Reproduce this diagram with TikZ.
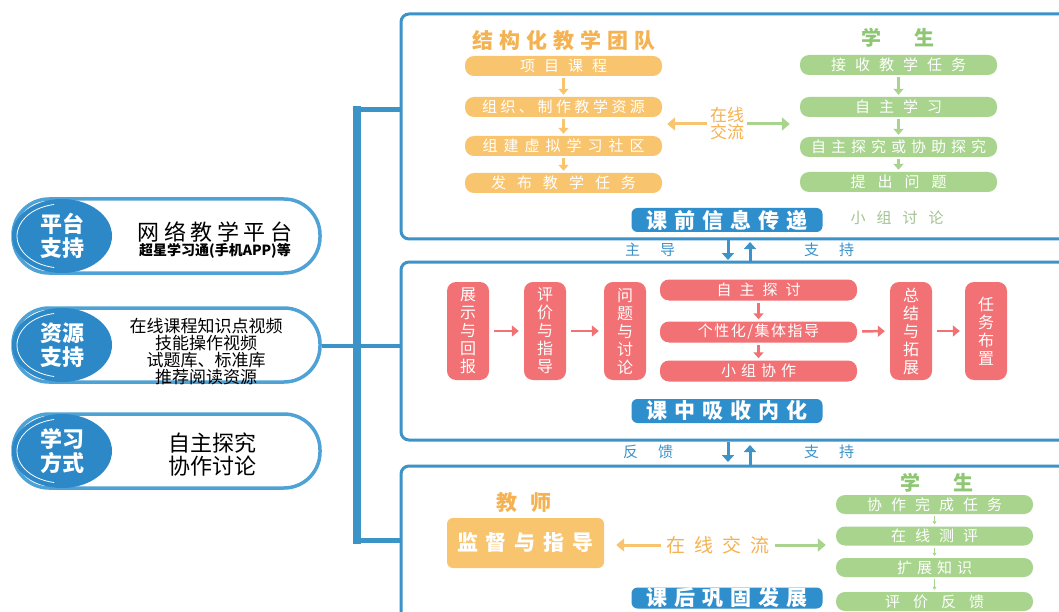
\documentclass[tikz,border=0pt]{standalone}
\usepackage{fontspec}
\setmainfont{Noto Sans CJK SC}
\usetikzlibrary{arrows.meta,shapes.geometric,positioning}

\definecolor{lineblue}{HTML}{3C93C8}
\definecolor{badgeblue}{HTML}{2F8ECC}
\definecolor{pillblue}{HTML}{2C88C6}
\definecolor{pillrim}{HTML}{4FA2D6}
\definecolor{teachorange}{HTML}{F9C46E}
\definecolor{orangetext}{HTML}{F5B252}
\definecolor{stugreen}{HTML}{A8D48E}
\definecolor{greentext}{HTML}{8FC673}
\definecolor{notegreen}{HTML}{A3C290}
\definecolor{midpink}{HTML}{F27174}

\newcommand\fs[2]{\fontsize{#1}{#2}\selectfont}
\newcommand\spaced[2]{\def\spacedgap{#1}\spacednext#2\relax}
\def\spacednext#1#2{#1\ifx\relax#2\else\hspace{\spacedgap}\expandafter\spacednext\expandafter#2\fi}

\tikzset{
  panel/.style={draw=lineblue, line width=3pt, rounded corners=8pt},
  bracket/.style={draw=lineblue, line width=5pt},
  pill/.style={draw=pillrim, line width=3.5pt, fill=white, rounded corners=36pt,
    minimum width=307pt, minimum height=74pt, inner sep=0pt},
  pillcap/.style={ellipse, fill=pillblue, minimum width=100pt, minimum height=74pt,
    inner sep=0pt, text=white, align=center, font=\fs{22}{24}\bfseries},
  capline/.style={draw=white, line width=0.8pt},
  pilltext/.style={align=center, inner sep=0pt},
  obox/.style={fill=teachorange, rounded corners=9pt, minimum width=197pt,
    minimum height=20pt, inner sep=0pt, text=white, font=\fs{15}{15}},
  gbox/.style={obox, fill=stugreen},
  pbar/.style={obox, fill=midpink, minimum height=21pt},
  pcol/.style={fill=midpink, rounded corners=9pt, minimum width=42pt,
    minimum height=98pt, inner sep=0pt, text=white, align=center, font=\fs{16}{18}},
  obig/.style={fill=teachorange, rounded corners=6pt, minimum width=157pt,
    minimum height=50pt, inner sep=0pt, text=white, font=\fs{21}{21}\bfseries},
  otitle/.style={text=orangetext, font=\fs{21}{21}\bfseries, inner sep=0pt},
  gtitle/.style={text=greentext, font=\fs{20}{20}\bfseries, inner sep=0pt},
  online/.style={text=orangetext, align=center, inner sep=0pt},
  note/.style={text=notegreen, font=\fs{15}{15}, inner sep=0pt},
  bluelabel/.style={text=lineblue, font=\fs{15}{15}, inner sep=0pt},
  badge/.style={fill=badgeblue, rounded corners=6pt, minimum width=191pt,
    minimum height=24pt, inner sep=0pt, text=white, font=\fs{21}{21}\bfseries},
  odown/.style={draw=teachorange, line width=2.5pt, -{Triangle[length=6pt,width=10pt]},
    shorten <=2pt, shorten >=2pt},
  gdown/.style={odown, draw=stugreen},
  pdown/.style={odown, draw=midpink},
  oarr/.style={draw=teachorange, line width=3pt, -{Triangle[length=8pt,width=13pt]}},
  garr/.style={oarr, draw=stugreen},
  parr/.style={draw=midpink, line width=2.5pt, -{Triangle[length=7pt,width=11pt]},
    shorten <=5pt, shorten >=5pt},
  barr/.style={draw=lineblue, line width=3pt, -{Triangle[length=7pt,width=12pt]}},
  tiny/.style={draw=stugreen, line width=1pt, -{Triangle[length=3pt,width=4pt]},
    shorten <=2pt, shorten >=2pt}
}

\begin{document}
\begin{tikzpicture}[x=1pt,y=-1pt]
\useasboundingbox (0,0) rectangle (1059,612);
\fill[white] (0,0) rectangle (1059,612);

% panels
\draw[panel] (1066,14) -- (401,14) -- (401,239) -- (1066,239);
\draw[panel] (1066,262) -- (401,262) -- (401,440) -- (1066,440);
\draw[panel] (1066,466) -- (401,466) -- (401,620);

% left side
\node[pill] (pill1) at (166.5,236) {};
\node[pillcap] (cap1) at (62,236) {平台\\支持};
\draw[capline] (cap1.center) ++(100:45 and 32) arc[start angle=100, end angle=260, x radius=45, y radius=32];
\node[pilltext] (plat) at (215,240) {{\fs{22}{28}\spaced{4.5pt}{网络教学平台}}\\{\fs{14}{16}\bfseries 超星学习通(手机APP)等}};

\node[pill] (pill2) at (166.5,345) {};
\node[pillcap] (cap2) at (62,345) {资源\\支持};
\draw[capline] (cap2.center) ++(100:45 and 32) arc[start angle=100, end angle=260, x radius=45, y radius=32];
\node[pilltext, font=\fs{17}{17}] (res) at (206,352) {在线课程知识点视频\\技能操作视频\\试题库、标准库\\推荐阅读资源};

\node[pill] (pill3) at (166.5,451) {};
\node[pillcap] (cap3) at (62,451) {学习\\方式};
\draw[capline] (cap3.center) ++(100:45 and 32) arc[start angle=100, end angle=260, x radius=45, y radius=32];
\node[pilltext, font=\fs{22}{23}] (way) at (212,455) {自主探究\\协作讨论};

% bracket
\coordinate (top) at (401,110);
\coordinate (mid) at (401,346);
\coordinate (bot) at (401,540);
\draw[bracket] (top) -- (357,110);
\draw[bracket] (bot) -- (357,540);
\draw[bracket, line width=8pt] (357,106) -- (357,544);
\draw[bracket, line width=4pt] (pill2.east |- mid) -- (mid);

% before class
\node[otitle] (team) at (564,40) {\spaced{6pt}{结构化教学团队}};
\node[obox] (o1) at (563.5,66) {\spaced{9pt}{项目课程}};
\node[obox] (o2) at (563.5,107) {\spaced{3.5pt}{组织、制作教学资源}};
\node[obox] (o3) at (563.5,146) {\spaced{6pt}{组建虚拟学习社区}};
\node[obox] (o4) at (563.5,183) {\spaced{11pt}{发布教学任务}};
\draw[odown] (o1) -- (o2);
\draw[odown] (o2) -- (o3);
\draw[odown] (o3) -- (o4);

\node[online, font=\fs{17}{17}] (talk1) at (727,124) {在线\\交流};
\draw[oarr] ([xshift=-3pt]talk1.west) -- ([xshift=5pt]talk1.west -| o2.east);
\node[gtitle] (stu1) at (898,38) {\spaced{33pt}{学生}};
\node[gbox] (g1) at (898.5,65) {\spaced{9pt}{接收教学任务}};
\node[gbox] (g2) at (898.5,107) {\spaced{9pt}{自主学习}};
\node[gbox] (g3) at (898.5,147) {\spaced{5pt}{自主探究或协助探究}};
\node[gbox] (g4) at (898.5,182) {\spaced{12pt}{提出问题}};
\draw[gdown] (g1) -- (g2);
\draw[gdown] (g2) -- (g3);
\draw[gdown] (g3) -- (g4);
\draw[garr] ([xshift=3pt]talk1.east) -- ([xshift=-10pt]talk1.east -| g2.west);
\node[badge] (pre) at (727,220) {\spaced{7pt}{课前信息传递}};
\node[note] (group) at (897,218) {\spaced{11pt}{小组讨论}};

% between 1 and 2
\node[bluelabel] (lead) at (650,250) {\spaced{20pt}{主导}};
\node[bluelabel] (sup1) at (829,250) {\spaced{20pt}{支持}};
\coordinate (a1) at (728,240);
\coordinate (a2) at (728,260);
\coordinate (a3) at (750,262);
\coordinate (a4) at (750,242);
\draw[barr] (a1) -- (a2);
\draw[barr] (a3) -- (a4);

% in class
\node[pcol] (c1) at (468,331) {展\\示\\与\\回\\报};
\node[pcol] (c2) at (545,331) {评\\价\\与\\指\\导};
\node[pcol] (c3) at (625,331) {问\\题\\与\\讨\\论};
\node[pbar] (r1) at (758.5,290) {\spaced{8pt}{自主探讨}};
\node[pbar] (r2) at (758.5,332) {\spaced{1.5pt}{个性化/集体指导}};
\node[pbar] (r3) at (758.5,371) {\spaced{5pt}{小组协作}};
\node[pcol] (c4) at (911,331) {总\\结\\与\\拓\\展};
\node[pcol] (c5) at (986,331) {任\\务\\布\\置};
\draw[parr] (c1) -- (c2);
\draw[parr] (c2) -- (c3);
\draw[parr] (r2) -- (c4);
\draw[parr] (c4) -- (c5);
\draw[pdown] (r1) -- (r2);
\draw[pdown] (r2) -- (r3);
\node[badge] (inclass) at (727,411) {\spaced{7pt}{课中吸收内化}};

% between 2 and 3
\node[bluelabel] (back) at (648,452) {\spaced{20pt}{反馈}};
\node[bluelabel] (sup2) at (829,452) {\spaced{20pt}{支持}};
\coordinate (b1) at (728,442);
\coordinate (b2) at (728,462);
\coordinate (b3) at (750,466);
\coordinate (b4) at (750,445);
\draw[barr] (b1) -- (b2);
\draw[barr] (b3) -- (b4);

% after class
\node[otitle] (teacher) at (524,503) {\spaced{14pt}{教师}};
\node[obig] (guide) at (525.5,543) {\spaced{8pt}{监督与指导}};
\node[online, font=\fs{19}{19}] (talk2) at (718,545) {\spaced{9pt}{在线交流}};
\draw[oarr] ([xshift=-5pt]talk2.west) -- ([xshift=12pt]talk2.west -| guide.east);
\node[gtitle] (stu2) at (937,483) {\spaced{33pt}{学生}};
\node[gbox, minimum height=19pt] (h1) at (934.5,504.5) {\spaced{9pt}{协作完成任务}};
\node[gbox, minimum height=19pt] (h2) at (934.5,536) {\spaced{9pt}{在线测评}};
\node[gbox, minimum height=19pt] (h3) at (934.5,567.5) {\spaced{5pt}{扩展知识}};
\node[gbox, minimum height=19pt] (h4) at (934.5,601.5) {\spaced{13pt}{评价反馈}};
\draw[tiny] (h1) -- (h2);
\draw[tiny] (h2) -- (h3);
\draw[tiny] (h3) -- (h4);
\draw[garr] ([xshift=5pt]talk2.east) -- ([xshift=-10pt]talk2.east -| h2.west);
\node[badge, minimum height=21pt] (post) at (727,598) {\spaced{7pt}{课后巩固发展}};
\end{tikzpicture}
\end{document}
